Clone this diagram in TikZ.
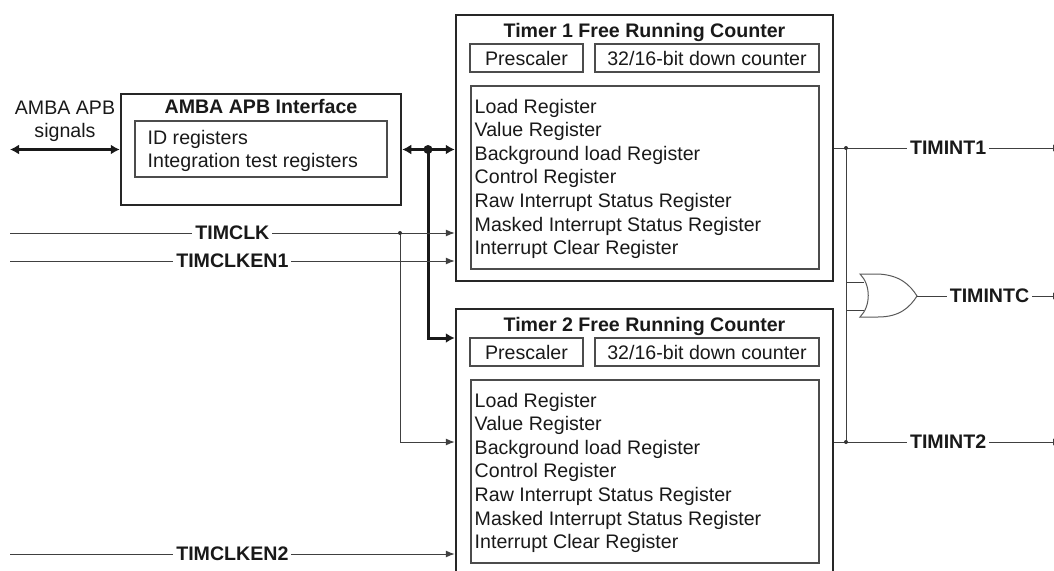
\documentclass[tikz,border=0pt]{standalone}
\usepackage{fontspec}
\setmainfont{Liberation Sans}
\usetikzlibrary{arrows.meta}

\newcommand\dgfont{\fontsize{19.6}{23.6}\selectfont}

\tikzset{
  outerbox/.style={draw=black!85, line width=2.5pt, inner sep=0pt},
  innerbox/.style={draw=black!70, line width=1.2pt, inner sep=0pt, text height=14pt, text depth=0pt, text=black!90},
  txt/.style={inner sep=0pt, text=black!90},
  ttl/.style={txt, anchor=base, font=\dgfont\bfseries},
  sig/.style={draw=black!75, line width=1pt},
  bus/.style={draw=black!90, line width=3pt},
  sigarrow/.style={sig, -{Latex[length=9pt,width=7pt]}},
  busarrow/.style={bus, -{Latex[length=9pt,width=10pt]}},
  busarrows/.style={bus, {Latex[length=9pt,width=10pt]}-{Latex[length=9pt,width=10pt]}},
  lbl/.style={fill=white, inner sep=3pt, font=\dgfont\bfseries, text=black!90},
}

\begin{document}
\begin{tikzpicture}[x=1pt, y=-1pt, font=\dgfont]
\useasboundingbox (0,0) rectangle (1054,570);

% APB interface block
\node[outerbox, minimum width=280pt, minimum height=111pt] (apb) at (261,149.5) {};
\node[innerbox, minimum width=252pt, minimum height=56pt] (apbin) at (261,149) {};
\node[ttl] (apbttl) at (261,113) {AMBA APB Interface};
\node[txt, anchor=base west] (idreg) at (147.5,144) {ID registers};
\node[txt, anchor=base west] (itreg) at (147.5,167.3) {Integration test registers};
\node[txt, anchor=base] (sigtop) at (65,114) {AMBA APB};
\node[txt, anchor=base] (sigbot) at (65,137) {signals};

% the two timers
\foreach \t/\dy in {1/0, 2/294}
{
  \node[outerbox, minimum width=377pt, minimum height=266pt] (tmr\t) at (644.5,{148+\dy}) {};
  \node[ttl] (tmrttl\t) at (644.5,{37+\dy}) {Timer \t\ Free Running Counter};
  \node[innerbox, minimum width=113pt, minimum height=28pt] (pre\t) at (526.5,{58+\dy}) {Prescaler};
  \node[innerbox, minimum width=224pt, minimum height=28pt] (cnt\t) at (707,{58+\dy}) {32/16-bit down counter};
  \node[innerbox, minimum width=348pt, minimum height=183pt] (regs\t) at (645,{177.5+\dy}) {};
  \foreach \r [count=\i from 0] in {Load Register, Value Register, Background load Register, Control Register, Raw Interrupt Status Register, Masked Interrupt Status Register, Interrupt Clear Register}
    \node[txt, anchor=base west] (reg\t-\i) at (474.5,{113+\dy+\i*23.6}) {\r};
}

% bus
\coordinate (apbsig) at (10,149.5);
\coordinate (busdot) at (428,149.5);
\coordinate (busdrop) at (428,338);
\draw[busarrows] (apbsig) -- (apb.west);
\draw[busarrows] (apb.east) -- (apb.east -| tmr1.west);
\draw[busarrow] (busdot) -- (busdrop) -- (busdrop -| tmr2.west);
\fill[black!90] (busdot) circle (4.5);

% clocks
\coordinate (clkin) at (10,233);
\coordinate (en1in) at (10,261);
\coordinate (en2in) at (10,554);
\coordinate (clkdot) at (400,233);
\draw[sigarrow] (clkin) -- node[lbl] (clklbl) {TIMCLK} (clkin -| tmr1.west);
\draw[sigarrow] (en1in) -- node[lbl] (en1lbl) {TIMCLKEN1} (en1in -| tmr1.west);
\draw[sigarrow] (en2in) -- node[lbl] (en2lbl) {TIMCLKEN2} (en2in -| tmr2.west);
\draw[sigarrow] (clkdot) |- (tmr2.west);
\fill[black!80] (clkdot) circle (2);

% interrupts
\coordinate (int1out) at (1062,148);
\coordinate (int2out) at (1062,442);
\coordinate (int1dot) at (846,148);
\coordinate (int2dot) at (846,442);
\draw[sigarrow] (tmr1.east) -- node[lbl] (int1lbl) {TIMINT1} (int1out);
\draw[sigarrow] (tmr2.east) -- node[lbl] (int2lbl) {TIMINT2} (int2out);
\draw[sig] (int1dot) -- (int2dot);
\fill[black!80] (int1dot) circle (2) (int2dot) circle (2);

% OR gate
\coordinate (orin1) at (864,282);
\coordinate (orin2) at (864,310);
\coordinate (orout) at (917,296);
\draw[sig] (int1dot |- orin1) -- (orin1);
\draw[sig] (int1dot |- orin2) -- (orin2);
\draw[sig, draw=black!65] (860,274) -- (878,274) .. controls (900,275) and (910,285) .. (orout)
  .. controls (910,307) and (900,317) .. (878,317) -- (860,317) .. controls (871,306) and (871,285) .. cycle;
\draw[sigarrow] (orout) -- node[lbl] (intclbl) {TIMINTC} (orout -| int1out);
\end{tikzpicture}
\end{document}
